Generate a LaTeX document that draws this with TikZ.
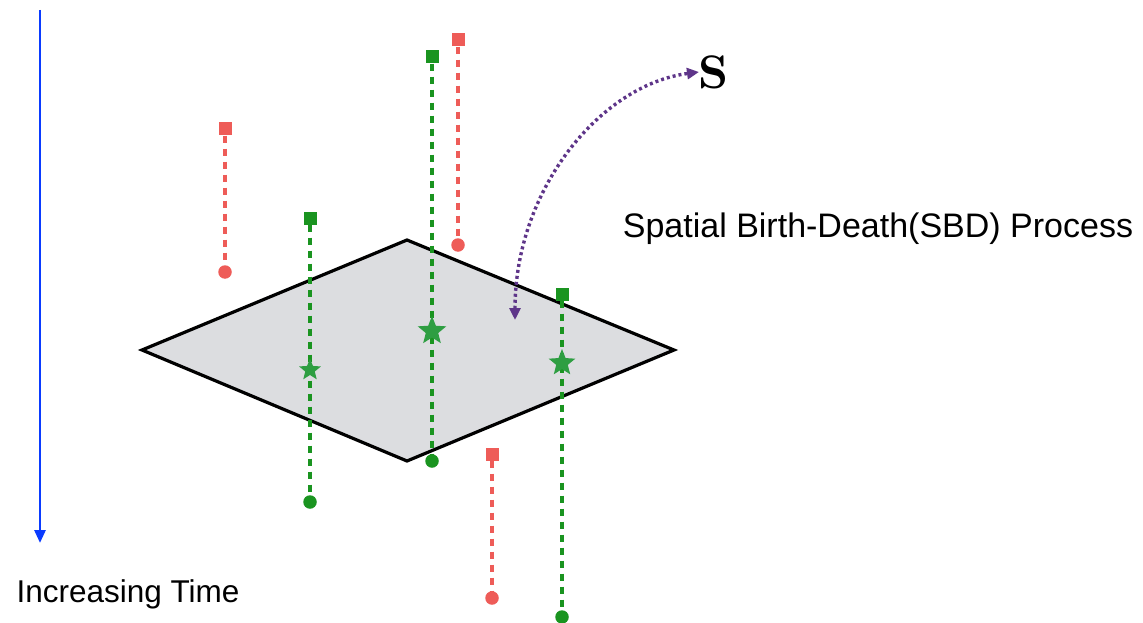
\documentclass[tikz,border=0pt]{standalone}
\usepackage{fontspec}
\setmainfont{Liberation Sans}
\newfontfamily\serifS{lmroman10-bold.otf}
\usetikzlibrary{shapes.geometric,arrows.meta}
\definecolor{myred}{HTML}{EE5C58}
\definecolor{mygreen}{HTML}{1A9420}
\definecolor{mystar}{HTML}{2E9E42}
\definecolor{mypurple}{HTML}{5E3589}
\definecolor{myblue}{HTML}{0A3BFF}
\definecolor{mygray}{HTML}{DCDDE0}
\tikzset{
  sq/.style={rectangle,minimum size=13pt,inner sep=0pt,fill=#1},
  dot/.style={circle,minimum size=13.5pt,inner sep=0pt,fill=#1},
  stardot/.style={star,star points=5,star point ratio=2.3,minimum size=#1,inner sep=0pt,fill=mystar},
  track/.style={draw=#1,line width=4pt,dash pattern=on 7pt off 6pt},
  lbl/.style={inner sep=0pt}
}
\begin{document}
\begin{tikzpicture}[x=1pt,y=-1pt]
\useasboundingbox (0,0) rectangle (1143,623);
% time arrow
\coordinate (ta) at (40,10);
\coordinate (tb) at (40,543);
\draw[myblue,line width=2.8pt,-{Triangle[length=13pt,width=11pt]}] (ta) -- (tb);
\node[lbl,font=\fontsize{31.5}{36}\selectfont] (tl) at (128,594) {Increasing Time};
% plane
\coordinate (dl) at (142,350);
\coordinate (dt) at (407,240);
\coordinate (dr) at (674,350);
\coordinate (db) at (407,461);
\draw[fill=mygray,line width=3.2pt,line join=miter] (dl) -- (dt) -- (dr) -- (db) -- cycle;
% red tracks
\node[sq=myred] (r1s) at (225,129) {};
\node[dot=myred] (r1e) at (225,272) {};
\draw[track=myred] (r1s) -- (r1e);
\node[sq=myred] (r2s) at (458,40) {};
\node[dot=myred] (r2e) at (458,245) {};
\draw[track=myred] (r2s) -- (r2e);
\node[sq=myred] (r3s) at (492,454) {};
\node[dot=myred] (r3e) at (492,598) {};
\draw[track=myred] (r3s) -- (r3e);
% green tracks
\node[sq=mygreen] (g1s) at (310,218) {};
\node[dot=mygreen] (g1e) at (310,502) {};
\draw[track=mygreen] (g1s) -- (g1e);
\node[stardot=23pt] (g1x) at (310,370) {};
\node[sq=mygreen] (g2s) at (432,57) {};
\node[dot=mygreen] (g2e) at (432,461) {};
\draw[track=mygreen] (g2s) -- (g2e);
\node[stardot=30pt] (g2x) at (432,331) {};
\node[sq=mygreen] (g3s) at (562,294) {};
\node[dot=mygreen] (g3e) at (562,617) {};
\draw[track=mygreen] (g3s) -- (g3e);
\node[stardot=28pt] (g3x) at (562,363) {};
% SBD process
\node[font=\serifS\fontsize{47}{54}\selectfont,inner sep=0pt] (S) at (714,72) {S};
\coordinate (pa) at (515,320);
\coordinate (pb) at (699,72);
\draw[mypurple,line width=3.4pt,dash pattern=on 3pt off 3pt,{Triangle[length=12pt,width=11pt]}-{Triangle[length=12pt,width=11pt]}]
  (pa) .. controls (515,190) and (600,85) .. (pb);
\node[lbl,font=\fontsize{34}{40}\selectfont] (pl) at (878,229) {Spatial Birth-Death(SBD) Process};
\end{tikzpicture}
\end{document}
